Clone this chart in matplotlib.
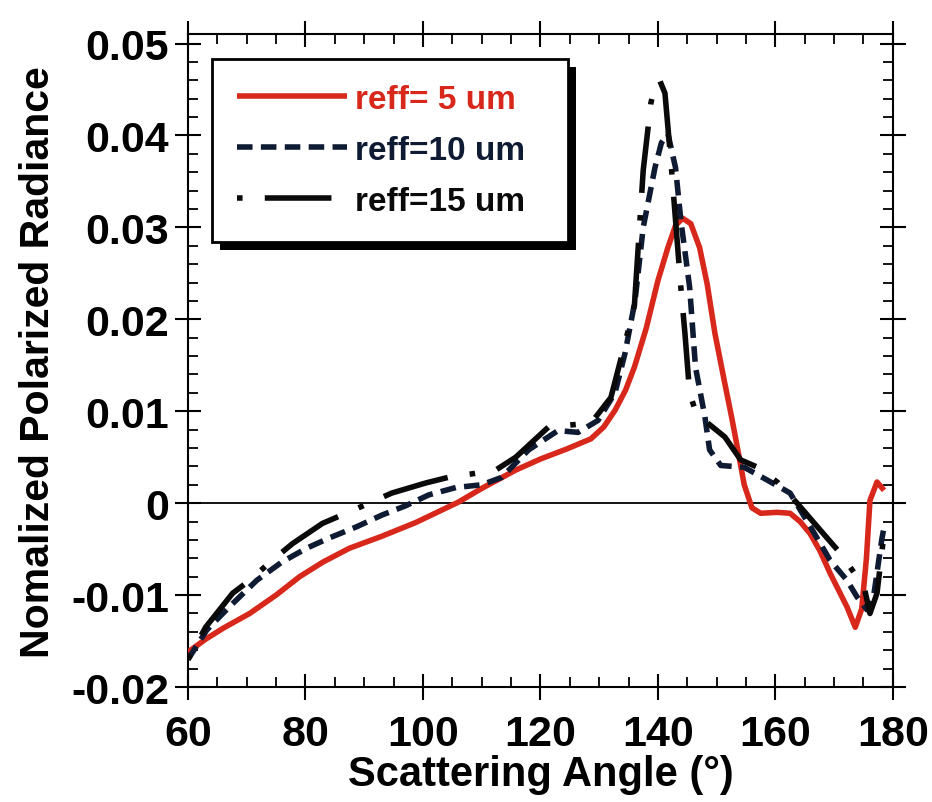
import matplotlib
matplotlib.use("Agg")
import matplotlib.pyplot as plt
from matplotlib.patches import Rectangle
from matplotlib.ticker import MultipleLocator

# ---- data ----
x5 = [60, 63, 66, 70.5, 75, 79, 83, 87.5, 93, 98.8, 106, 110, 115.8, 120, 124.5,
      128.6, 130.8, 132.7, 134.5, 136, 138, 140, 141.7, 143, 144.2, 145.6, 147.1, 148.4,
      149.7, 151.4, 152.6, 153.6, 154.7, 156, 157.5, 160.3, 162.5, 164.2, 165.9, 167.6,
      169.3, 172.2, 173.6, 174.7, 175.5, 176.1, 177.3, 178.5]
y5 = [-0.0162, -0.0148, -0.0136, -0.0120, -0.0100, -0.0080, -0.0064, -0.0049, -0.0036,
      -0.0021, 0.0001, 0.0016, 0.0036, 0.0048, 0.0059, 0.0070, 0.0083, 0.0101, 0.0123,
      0.0148, 0.0190, 0.0242, 0.0278, 0.0302, 0.0310, 0.0304, 0.0278, 0.0238, 0.0185,
      0.0130, 0.0092, 0.0058, 0.0020, -0.0005, -0.0011, -0.0010, -0.0011, -0.0020,
      -0.0033, -0.0052, -0.0076, -0.0113, -0.0135, -0.0115, -0.0060, 0.0003, 0.0023, 0.0014]

x10 = [60, 63.2, 67, 71.7, 76, 80.2, 84, 88.6, 93, 97, 101, 105.6, 110, 113.4, 118, 123,
       126.4, 129.8, 132.7, 134.4, 136.1, 137.5, 139.5, 140.6, 141.7, 143, 143.9, 145.4,
       146.4, 148, 148.8, 150.7, 154.7, 159.2, 162.5, 166, 169.3, 172.2, 173.9, 175.6,
       176.8, 178.1, 178.5]
y10 = [-0.0170, -0.0138, -0.0113, -0.0084, -0.0064, -0.0049, -0.0038, -0.0026, -0.0013,
       -0.0003, 0.0009, 0.0017, 0.0020, 0.0028, 0.0058, 0.0079, 0.0077, 0.0090, 0.0120,
       0.0163, 0.0220, 0.0300, 0.0365, 0.0392, 0.0402, 0.0365, 0.0308, 0.0235, 0.0148,
       0.0094, 0.0058, 0.0041, 0.0039, 0.0023, 0.0011, -0.0026, -0.0062, -0.0084,
       -0.0102, -0.0116, -0.0098, -0.0040, -0.0026]

x15 = [60, 63, 67.6, 70.5, 74, 77.8, 82.9, 88, 94.7, 100.5, 104.9, 108.5, 112.4, 115.8,
       121.4, 125, 128.6, 132, 134.4, 136, 137.5, 138.8, 139.5, 140.3, 141.2, 142.2,
       143.9, 144.6, 145.4, 146.5, 148.5, 151.4, 154.1, 157, 160.5, 163.7, 167.6, 171,
       173, 175.1, 176.1, 177.3, 178.5]
y15 = [-0.0170, -0.0135, -0.0098, -0.0084, -0.0064, -0.0044, -0.0022, -0.0008, 0.0011,
       0.0022, 0.0029, 0.0032, 0.0036, 0.0050, 0.0083, 0.0085, 0.0087, 0.0115, 0.0174,
       0.0215, 0.0362, 0.0435, 0.0455, 0.0460, 0.0446, 0.0373, 0.0235, 0.0185, 0.0120,
       0.0098, 0.0087, 0.0072, 0.0047, 0.0039, 0.0022, 0.0000, -0.0029, -0.0054,
       -0.0072, -0.0091, -0.0120, -0.0098, -0.0033]

labels = ["reff= 5 um", "reff=10 um", "reff=15 um"]
xticks = [60, 80, 100, 120, 140, 160, 180]
yticks = [-0.02, -0.01, 0, 0.01, 0.02, 0.03, 0.04, 0.05]
ytick_labels = ["-0.02", "-0.01", "0", "0.01", "0.02", "0.03", "0.04", "0.05"]

RED = "#d8281c"
NAVY = "#0f1a33"
BLACK = "#0a0a0a"

plt.rcParams['font.family'] = ['Liberation Sans', 'DejaVu Sans']

fig = plt.figure(figsize=(9.32, 8.03), dpi=100)
ax = fig.add_axes([0.2017, 0.1432, 0.7563, 0.8128])

lw = 4.0
ax.plot(x5, y5, color=RED, lw=lw, solid_capstyle='butt', solid_joinstyle='round',
        label=labels[0], zorder=3)
ax.plot(x10, y10, color=NAVY, lw=lw, linestyle=(0, (2.8, 1.5)), label=labels[1], zorder=4)
ax.plot(x15, y15, color=BLACK, lw=lw, linestyle=(0, (1, 4, 12, 4)), label=labels[2], zorder=5)

ax.axhline(0, color='black', lw=1.3, zorder=2)

ax.set_xlim(60, 180)
ax.set_ylim(-0.02, 0.051)
ax.set_xticks(xticks)
ax.set_yticks(yticks)
ax.set_yticklabels(ytick_labels)
ax.xaxis.set_minor_locator(MultipleLocator(5))
ax.yaxis.set_minor_locator(MultipleLocator(0.002))

for s in ax.spines.values():
    s.set_linewidth(1.5)

ax.tick_params(which='major', direction='inout', length=19, width=1.5,
               top=True, right=True, labelsize=31, pad=4)
ax.tick_params(axis='x', which='major', pad=10)
ax.tick_params(which='minor', direction='in', length=7, width=1.3,
               top=True, right=True)
for t in ax.get_xticklabels() + ax.get_yticklabels():
    t.set_fontweight('bold')

ax.set_xlabel("Scattering Angle (°)", fontsize=30, fontweight='bold', labelpad=0)
ax.set_ylabel("Nomalized Polarized Radiance", fontsize=29.5, fontweight='bold', labelpad=10)

leg = ax.legend(loc='upper left', bbox_to_anchor=(0.034, 0.0, 0.505, 0.962),
                mode='expand', prop={'weight': 'bold', 'size': 24},
                handlelength=3.3, handletextpad=0.25, labelspacing=0.6,
                borderpad=0.75, fancybox=False, framealpha=1, edgecolor='black',
                borderaxespad=0)
leg.get_frame().set_linewidth(2.0)
texts = leg.get_texts()
texts[0].set_color(RED)
texts[1].set_color(NAVY)
texts[2].set_color(BLACK)

fig.canvas.draw()
bb = leg.get_window_extent().transformed(fig.transFigure.inverted())
dx, dy = 8 / 932, 8 / 803
shadow = Rectangle((bb.x0 + dx, bb.y0 - dy), bb.width, bb.height,
                   transform=fig.transFigure, facecolor='black', edgecolor='none',
                   zorder=9)
fig.add_artist(shadow)
leg.remove()
fig.legends.append(leg)
leg.set_zorder(10)

fig.savefig("out.png", dpi=100)
